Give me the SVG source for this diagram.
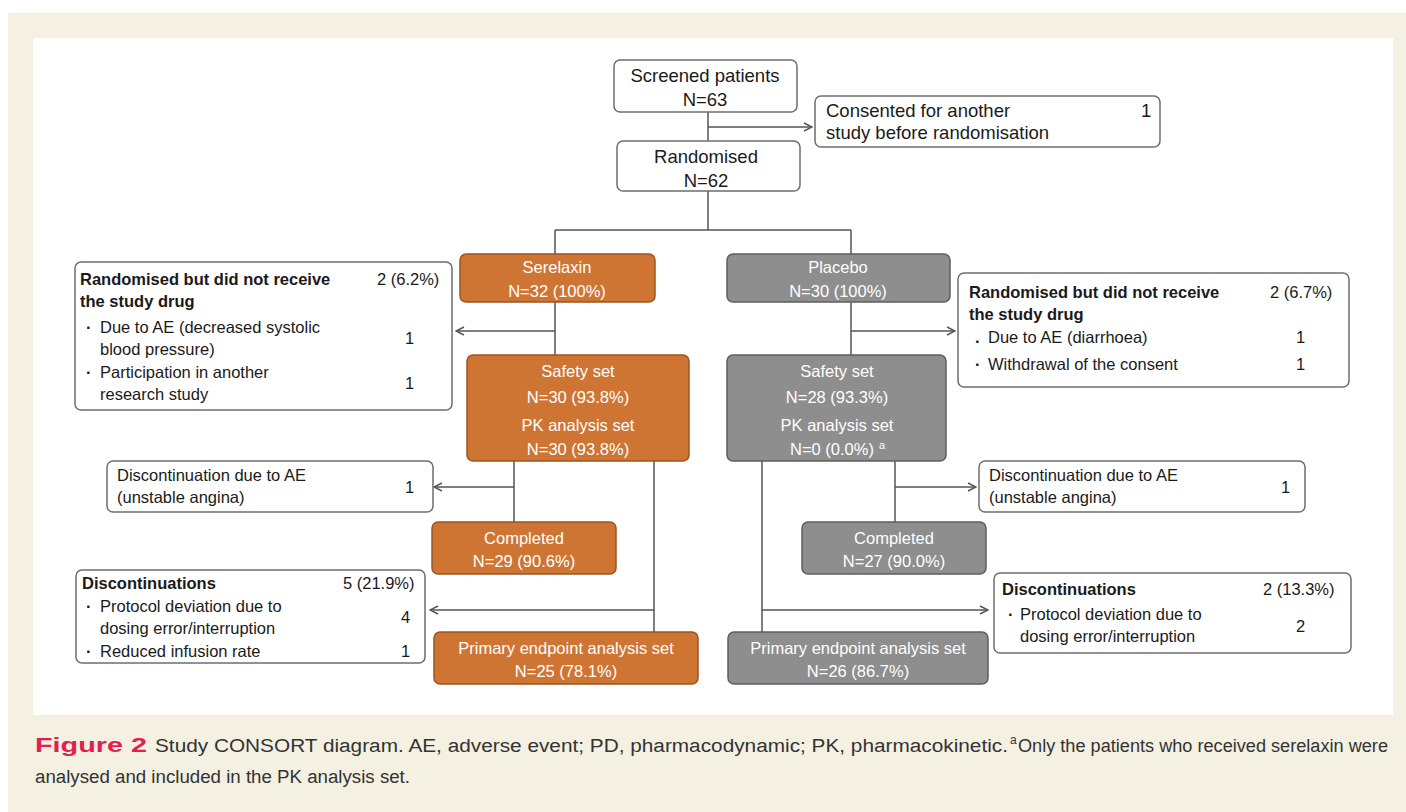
<svg xmlns="http://www.w3.org/2000/svg" width="1406" height="812" viewBox="0 0 1406 812">
<style>
text{font-family:"Liberation Sans",Arial,sans-serif;fill:#1a1a1a;font-size:16.5px}
.w{fill:#fff}
.b{font-weight:bold}
.c{text-anchor:middle}
.t{font-size:18.5px}
.box{fill:#fff;stroke:#6e6e6e;stroke-width:1.5}
.or{fill:#cf7533;stroke:#9c5420;stroke-width:1.5}
.gr{fill:#8e8e8e;stroke:#5e5e5e;stroke-width:1.5}
.ln{fill:none;stroke:#555;stroke-width:1.5}
.cap{font-size:18px;fill:#333}
</style>
<defs>
<marker id="arr" viewBox="0 0 10 10" refX="9" refY="5" markerWidth="10" markerHeight="10" markerUnits="userSpaceOnUse" orient="auto">
<path d="M1,1 L9,5 L1,9" fill="none" stroke="#555" stroke-width="1.4"/>
</marker>
</defs>
<rect x="8" y="13" width="1398" height="799" fill="#f4f0e2"/>
<rect x="33" y="38" width="1360" height="677" fill="#fff"/>

<g id="connectors">
<path class="ln" d="M708,112 V141"/>
<path class="ln" d="M708,127 H812" marker-end="url(#arr)"/>
<path class="ln" d="M708,191 V230 M555,230 H851 M555,230 V254 M851,230 V254"/>
<path class="ln" d="M555,302 V355"/>
<path class="ln" d="M555,331 H456" marker-end="url(#arr)"/>
<path class="ln" d="M851,302 V355"/>
<path class="ln" d="M851,331 H955" marker-end="url(#arr)"/>
<path class="ln" d="M514,461 V522"/>
<path class="ln" d="M514,487 H434" marker-end="url(#arr)"/>
<path class="ln" d="M654,461 V632"/>
<path class="ln" d="M654,610 H430" marker-end="url(#arr)"/>
<path class="ln" d="M895,461 V522"/>
<path class="ln" d="M895,487 H976" marker-end="url(#arr)"/>
<path class="ln" d="M762,461 V632"/>
<path class="ln" d="M762,610 H988" marker-end="url(#arr)"/>
</g>

<g id="screened">
<rect class="box" x="614" y="60" width="183" height="52" rx="6"/>
<text class="c t" x="705" y="82">Screened patients</text>
<text class="c t" x="705" y="106">N=63</text>
</g>
<g id="consented">
<rect class="box" x="815" y="96" width="345" height="51" rx="6"/>
<text class="t" x="826" y="117">Consented for another</text>
<text class="t" x="826" y="139">study before randomisation</text>
<text class="t" x="1141" y="117">1</text>
</g>
<g id="randomised">
<rect class="box" x="617" y="141" width="183" height="50" rx="6"/>
<text class="c t" x="706" y="163">Randomised</text>
<text class="c t" x="706" y="187">N=62</text>
</g>
<g id="serelaxin">
<rect class="or" x="460" y="254" width="195" height="48" rx="6"/>
<text class="c w" x="557" y="273">Serelaxin</text>
<text class="c w" x="557" y="297">N=32 (100%)</text>
</g>
<g id="placebo">
<rect class="gr" x="727" y="254" width="223" height="48" rx="6"/>
<text class="c w" x="838" y="273">Placebo</text>
<text class="c w" x="838" y="297">N=30 (100%)</text>
</g>
<g id="excl-serelaxin">
<rect class="box" x="75" y="262" width="377" height="148" rx="6"/>
<text class="b" x="80" y="285">Randomised but did not receive</text>
<text class="b" x="80" y="307">the study drug</text>
<text x="377" y="285">2 (6.2%)</text>
<text class="b" x="86" y="333">·</text>
<text x="100" y="333">Due to AE (decreased systolic</text>
<text x="100" y="355">blood pressure)</text>
<text x="405" y="344">1</text>
<text class="b" x="86" y="378">·</text>
<text x="100" y="378">Participation in another</text>
<text x="100" y="400">research study</text>
<text x="405" y="389">1</text>
</g>
<g id="excl-placebo">
<rect class="box" x="958" y="273" width="391" height="114" rx="6"/>
<text class="b" x="969" y="298">Randomised but did not receive</text>
<text class="b" x="969" y="320">the study drug</text>
<text x="1270" y="298">2 (6.7%)</text>
<text class="b" x="975" y="343">.</text>
<text x="988" y="343">Due to AE (diarrhoea)</text>
<text x="1296" y="343">1</text>
<text class="b" x="975" y="370">·</text>
<text x="988" y="370">Withdrawal of the consent</text>
<text x="1296" y="370">1</text>
</g>
<g id="safety-serelaxin">
<rect class="or" x="467" y="355" width="222" height="106" rx="6"/>
<text class="c w" x="578" y="377">Safety set</text>
<text class="c w" x="578" y="403">N=30 (93.8%)</text>
<text class="c w" x="578" y="431">PK analysis set</text>
<text class="c w" x="578" y="455">N=30 (93.8%)</text>
</g>
<g id="safety-placebo">
<rect class="gr" x="727" y="355" width="219" height="106" rx="6"/>
<text class="c w" x="837" y="377">Safety set</text>
<text class="c w" x="837" y="403">N=28 (93.3%)</text>
<text class="c w" x="837" y="431">PK analysis set</text>
<text class="c w" x="832" y="455">N=0 (0.0%)</text>
<text class="w" x="879" y="449" style="font-size:11px">a</text>
</g>
<g id="disc-ae-serelaxin">
<rect class="box" x="107" y="461" width="326" height="51" rx="6"/>
<text x="117" y="481">Discontinuation due to AE</text>
<text x="117" y="503">(unstable angina)</text>
<text x="405" y="493">1</text>
</g>
<g id="disc-ae-placebo">
<rect class="box" x="979" y="461" width="326" height="51" rx="6"/>
<text x="989" y="481">Discontinuation due to AE</text>
<text x="989" y="503">(unstable angina)</text>
<text x="1281" y="493">1</text>
</g>
<g id="completed-serelaxin">
<rect class="or" x="432" y="522" width="184" height="52" rx="6"/>
<text class="c w" x="524" y="544">Completed</text>
<text class="c w" x="524" y="567">N=29 (90.6%)</text>
</g>
<g id="completed-placebo">
<rect class="gr" x="802" y="522" width="184" height="52" rx="6"/>
<text class="c w" x="894" y="544">Completed</text>
<text class="c w" x="894" y="567">N=27 (90.0%)</text>
</g>
<g id="disc-serelaxin">
<rect class="box" x="76" y="570" width="349" height="93" rx="6"/>
<text class="b" x="82" y="589">Discontinuations</text>
<text x="343" y="589">5 (21.9%)</text>
<text class="b" x="86" y="612">·</text>
<text x="100" y="612">Protocol deviation due to</text>
<text x="100" y="634">dosing error/interruption</text>
<text x="401" y="623">4</text>
<text class="b" x="86" y="657">·</text>
<text x="100" y="657">Reduced infusion rate</text>
<text x="401" y="657">1</text>
</g>
<g id="disc-placebo">
<rect class="box" x="994" y="573" width="357" height="80" rx="6"/>
<text class="b" x="1002" y="595">Discontinuations</text>
<text x="1263" y="595">2 (13.3%)</text>
<text class="b" x="1008" y="620">·</text>
<text x="1020" y="620">Protocol deviation due to</text>
<text x="1020" y="642">dosing error/interruption</text>
<text x="1296" y="632">2</text>
</g>
<g id="primary-serelaxin">
<rect class="or" x="434" y="632" width="264" height="52" rx="6"/>
<text class="c w" x="566" y="654">Primary endpoint analysis set</text>
<text class="c w" x="566" y="677">N=25 (78.1%)</text>
</g>
<g id="primary-placebo">
<rect class="gr" x="728" y="632" width="260" height="52" rx="6"/>
<text class="c w" x="858" y="654">Primary endpoint analysis set</text>
<text class="c w" x="858" y="677">N=26 (86.7%)</text>
</g>

<g id="caption">
<text x="35" y="752" style="font-size:20px;font-weight:bold;fill:#e2204f" textLength="112" lengthAdjust="spacingAndGlyphs">Figure 2</text>
<text class="cap" x="155" y="752" textLength="853" lengthAdjust="spacingAndGlyphs">Study CONSORT diagram. AE, adverse event; PD, pharmacodynamic; PK, pharmacokinetic.</text>
<text class="cap" x="1010" y="744" style="font-size:12px">a</text>
<text class="cap" x="1018" y="752" textLength="370" lengthAdjust="spacingAndGlyphs">Only the patients who received serelaxin were</text>
<text class="cap" x="35" y="783" textLength="375" lengthAdjust="spacingAndGlyphs">analysed and included in the PK analysis set.</text>
</g>
</svg>
